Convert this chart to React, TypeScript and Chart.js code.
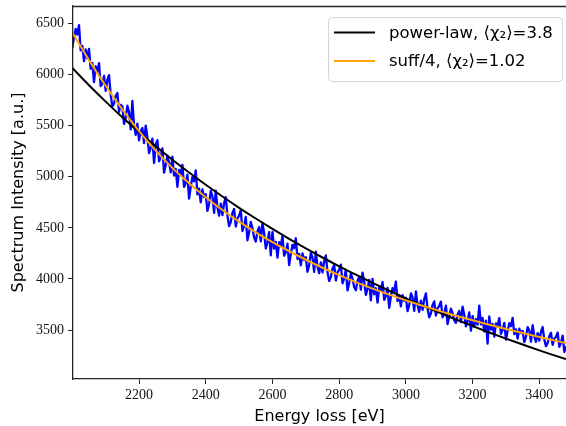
import React, { useEffect, useRef } from "react";
import { Chart, registerables } from "chart.js";

Chart.register(...registerables);

// Energy grid of the measured spectrum (eV)
const ENERGY_START = 2000;
const ENERGY_STEP = 5;

// Measured spectrum intensity [a.u.], one value every 5 eV from 2000 to 3480 eV
const spectrum = [
  6260, 6363, 6446, 6389, 6482, 6235, 6278, 6131, 6244, 6157,
  6250, 6055, 6110, 5925, 6080, 6025, 6110, 5885, 5910, 5985,
  5839, 5946, 5993, 5800, 5687, 5714, 5791, 5818, 5635, 5702,
  5687, 5516, 5575, 5694, 5633, 5462, 5740, 5500, 5409, 5518,
  5355, 5446, 5477, 5328, 5499, 5390, 5231, 5282, 5373, 5134,
  5315, 5358, 5151, 5194, 5277, 5040, 5113, 5206, 5139, 5042,
  5196, 5011, 5076, 4901, 5066, 5021, 5116, 4901, 4936, 5021,
  4785, 4901, 4998, 4954, 5061, 4827, 4883, 4750, 4876, 4802,
  4829, 4666, 4734, 4861, 4809, 4646, 4864, 4701, 4619, 4736,
  4624, 4743, 4801, 4620, 4518, 4557, 4646, 4684, 4513, 4591,
  4620, 4670, 4469, 4519, 4608, 4378, 4458, 4557, 4497, 4406,
  4366, 4466, 4507, 4367, 4548, 4448, 4298, 4359, 4459, 4230,
  4460, 4296, 4362, 4208, 4359, 4326, 4417, 4228, 4264, 4345,
  4136, 4243, 4334, 4301, 4398, 4195, 4246, 4133, 4250, 4186,
  4213, 4070, 4137, 4255, 4212, 4069, 4266, 4123, 4056, 4163,
  4065, 4173, 4230, 4068, 3981, 4018, 4101, 4139, 3986, 4064,
  4092, 4140, 3958, 4006, 4090, 3888, 3961, 4054, 4002, 3921,
  3889, 3983, 4022, 3896, 4061, 3975, 3844, 3903, 3992, 3791,
  4001, 3850, 3909, 3768, 3917, 3887, 3971, 3795, 3834, 3913,
  3717, 3826, 3911, 3880, 3975, 3784, 3838, 3733, 3842, 3787,
  3816, 3686, 3745, 3860, 3820, 3689, 3879, 3744, 3678, 3788,
  3698, 3803, 3859, 3709, 3625, 3665, 3746, 3781, 3642, 3712,
  3738, 3778, 3624, 3664, 3739, 3559, 3630, 3710, 3665, 3596,
  3571, 3652, 3688, 3579, 3729, 3650, 3536, 3587, 3673, 3494,
  3636, 3532, 3608, 3553, 3739, 3555, 3620, 3486, 3592, 3367,
  3633, 3504, 3560, 3436, 3566, 3542, 3618, 3464, 3500, 3570,
  3406, 3492, 3568, 3539, 3620, 3461, 3507, 3418, 3514, 3470,
  3491, 3383, 3434, 3530, 3496, 3387, 3548, 3439, 3385, 3471,
  3397, 3484, 3530, 3407, 3343, 3375, 3442, 3473, 3355, 3416,
  3435, 3476, 3337, 3378, 3445, 3286, 3343,
];

// Fit curves, read every 50 eV
const fitEnergies = [
  2000, 2050, 2100, 2150, 2200, 2250, 2300, 2350, 2400, 2450,
  2500, 2550, 2600, 2650, 2700, 2750, 2800, 2850, 2900, 2950,
  3000, 3050, 3100, 3150, 3200, 3250, 3300, 3350, 3400, 3450, 3480,
];
const powerLawFit = [
  6063, 5894, 5734, 5581, 5436, 5298, 5166, 5041, 4921, 4806,
  4696, 4591, 4490, 4393, 4300, 4210, 4124, 4042, 3962, 3885,
  3811, 3740, 3671, 3604, 3540, 3477, 3417, 3359, 3302, 3248, 3216,
];
const suffFit = [
  6410, 6140, 5889, 5657, 5445, 5255, 5086, 4935, 4799, 4674,
  4560, 4456, 4360, 4271, 4188, 4110, 4037, 3969, 3906, 3847,
  3791, 3738, 3688, 3641, 3596, 3553, 3511, 3471, 3432, 3395, 3373,
];

const xTicks = [2200, 2400, 2600, 2800, 3000, 3200, 3400];
const yTicks = [3500, 4000, 4500, 5000, 5500, 6000, 6500];
const legendLabels = ["power-law, \u27E8\u03C7\u2082\u27E9=3.8", "suff/4, \u27E8\u03C7\u2082\u27E9=1.02"];

const SPINE = "#262626";
const TICK_FONT = { family: "'Liberation Serif', serif", size: 14 };
const TITLE_FONT = { family: "'DejaVu Sans', sans-serif", size: 16 };

const framePlugin = {
  id: "frameAndLegend",
  afterDatasetsDraw(chart: any) {
    const { ctx, chartArea } = chart;
    ctx.save();
    // top spine
    ctx.strokeStyle = SPINE;
    ctx.lineWidth = 1.3;
    ctx.beginPath();
    ctx.moveTo(chartArea.left, chartArea.top + 0.5);
    ctx.lineTo(chartArea.right, chartArea.top + 0.5);
    ctx.stroke();

    // legend box
    const bx = 328, by = 17, bw = 234, bh = 64;
    ctx.beginPath();
    if (ctx.roundRect) ctx.roundRect(bx + 0.5, by + 0.5, bw, bh, 4);
    else ctx.rect(bx + 0.5, by + 0.5, bw, bh);
    ctx.fillStyle = "rgba(255,255,255,0.85)";
    ctx.fill();
    ctx.strokeStyle = "#d4d4d4";
    ctx.lineWidth = 1;
    ctx.stroke();

    const entries = [
      { color: chart.data.datasets[1].borderColor, label: legendLabels[0], y: 32.5 },
      { color: chart.data.datasets[0].borderColor, label: legendLabels[1], y: 61 },
    ];
    ctx.font = "16.5px 'DejaVu Sans', sans-serif";
    ctx.textBaseline = "middle";
    ctx.textAlign = "left";
    for (const e of entries) {
      ctx.strokeStyle = e.color;
      ctx.lineWidth = 2;
      ctx.beginPath();
      ctx.moveTo(334, e.y);
      ctx.lineTo(375, e.y);
      ctx.stroke();
      ctx.fillStyle = "#000";
      ctx.fillText(e.label, 389, e.y + 1);
    }
    ctx.restore();
  },
};

export default function App() {
  const canvasRef = useRef<HTMLCanvasElement | null>(null);

  useEffect(() => {
    const canvas = canvasRef.current;
    if (!canvas) return;
    const spectrumPoints = spectrum.map((v, i) => ({ x: ENERGY_START + i * ENERGY_STEP, y: v }));
    const powerPoints = fitEnergies.map((e, i) => ({ x: e, y: powerLawFit[i] }));
    const suffPoints = fitEnergies.map((e, i) => ({ x: e, y: suffFit[i] }));

    const chart = new Chart(canvas, {
      type: "line",
      data: {
        datasets: [
          {
            label: legendLabels[1],
            data: suffPoints,
            borderColor: "#ffa500",
            borderWidth: 2,
            pointRadius: 0,
            cubicInterpolationMode: "monotone",
            fill: false,
          },
          {
            label: legendLabels[0],
            data: powerPoints,
            borderColor: "#000000",
            borderWidth: 2,
            pointRadius: 0,
            cubicInterpolationMode: "monotone",
            fill: false,
          },
          {
            label: "spectrum",
            data: spectrumPoints,
            borderColor: "#0000ff",
            borderWidth: 2.3,
            borderJoinStyle: "round",
            pointRadius: 0,
            tension: 0,
            fill: false,
          },
        ],
      },
      options: {
        animation: false,
        responsive: true,
        maintainAspectRatio: false,
        layout: { padding: { top: 6, right: 0, left: 0, bottom: 0 } },
        plugins: { legend: { display: false }, tooltip: { enabled: false } },
        scales: {
          x: {
            type: "linear",
            min: 2002,
            max: 3480,
            afterBuildTicks: (scale: any) => {
              scale.ticks = xTicks.map((v) => ({ value: v }));
            },
            afterFit: (scale: any) => {
              scale.height = 47;
              scale.paddingLeft = 0;
              scale.paddingRight = 0;
            },
            ticks: {
              font: TICK_FONT,
              color: "#111",
              padding: 3,
              maxRotation: 0,
              autoSkip: false,
              callback: (v: any) => String(v),
            },
            grid: { drawOnChartArea: false, drawTicks: true, tickLength: 5, tickColor: SPINE, tickWidth: 1 },
            border: { display: true, color: SPINE, width: 1.3 },
            title: {
              display: true,
              text: "Energy loss [eV]",
              font: TITLE_FONT,
              color: "#000",
              padding: { top: 0, bottom: 0 },
            },
          },
          y: {
            type: "linear",
            min: 3022,
            max: 6669,
            afterBuildTicks: (scale: any) => {
              scale.ticks = yTicks.map((v) => ({ value: v }));
            },
            afterFit: (scale: any) => {
              scale.width = 73;
              scale.paddingTop = 0;
              scale.paddingBottom = 0;
            },
            ticks: {
              font: TICK_FONT,
              color: "#111",
              padding: 4,
              autoSkip: false,
              callback: (v: any) => String(v),
            },
            grid: { drawOnChartArea: false, drawTicks: true, tickLength: 5, tickColor: SPINE, tickWidth: 1 },
            border: { display: true, color: SPINE, width: 1.3 },
            title: {
              display: true,
              text: "Spectrum Intensity [a.u.]",
              font: TITLE_FONT,
              color: "#000",
              padding: { top: 9, bottom: 0 },
            },
          },
        },
      },
      plugins: [framePlugin],
    });
    return () => chart.destroy();
  }, []);

  return (
    <div style={{ position: "fixed", left: 0, top: 0, width: 566, height: 426, background: "#fff" }}>
      <canvas ref={canvasRef} />
    </div>
  );
}
